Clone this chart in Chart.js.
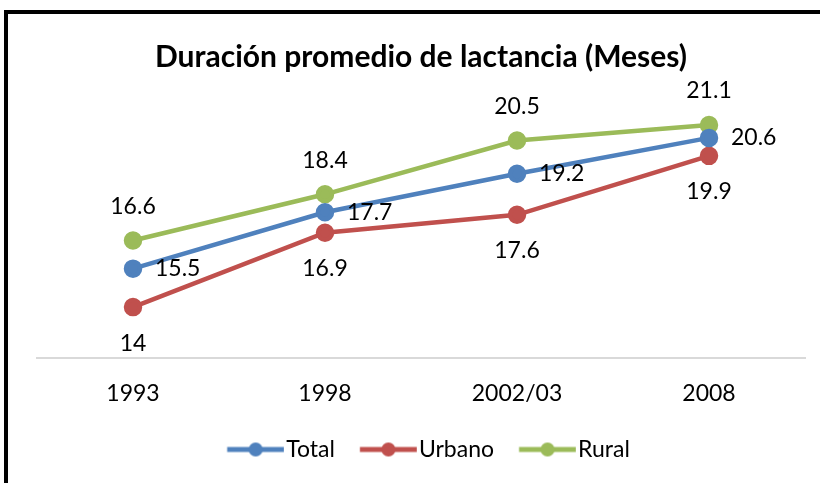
<!DOCTYPE html>
<html>
<head>
<meta charset="utf-8">
<script src="https://cdn.jsdelivr.net/npm/chart.js@4/dist/chart.umd.min.js"></script>
<style>
html,body{margin:0;padding:0;background:#fff;}
#wrap{position:relative;width:820px;height:483px;}
canvas{display:block;}
</style>
</head>
<body>
<div id="wrap"><canvas id="c" width="820" height="483"></canvas></div>
<script>
const categories = ["1993", "1998", "2002/03", "2008"];
const totalValues = [15.5, 17.7, 19.2, 20.6];
const urbanoValues = [14, 16.9, 17.6, 19.9];
const ruralValues = [16.6, 18.4, 20.5, 21.1];
const seriesNames = ["Total", "Urbano", "Rural"];
const chartTitle = "Duración promedio de lactancia (Meses)";

const colors = ["#4f81bd", "#c0504d", "#9bbb59"];
const labelPos = ["right", "below", "above"];
const FONT = "Lato, 'Open Sans', sans-serif";

function legendMarker(color) {
  const c = document.createElement("canvas");
  c.width = 82; c.height = 16;
  const x = c.getContext("2d");
  x.strokeStyle = color; x.lineWidth = 5; x.lineCap = "butt";
  x.beginPath(); x.moveTo(24.75, 8); x.lineTo(81.75, 8); x.stroke();
  x.fillStyle = color;
  x.beginPath(); x.arc(53.25, 8, 7, 0, Math.PI * 2); x.fill();
  return c;
}
const markers = colors.map(legendMarker);

const borderPlugin = {
  id: "frame",
  beforeDraw(chart) {
    const ctx = chart.ctx;
    ctx.save();
    ctx.fillStyle = "#fff";
    ctx.fillRect(0, 0, chart.width, chart.height);
    ctx.fillStyle = "#000";
    ctx.fillRect(4, 10, chart.width - 4, 4);
    ctx.fillRect(4, 10, 4, chart.height - 10);
    ctx.restore();
  }
};

const valueLabels = {
  id: "valueLabels",
  afterDatasetsDraw(chart) {
    const ctx = chart.ctx;
    ctx.save();
    ctx.font = "23px " + FONT;
    ctx.fillStyle = "#000";
    chart.data.datasets.forEach((ds, i) => {
      const meta = chart.getDatasetMeta(i);
      meta.data.forEach((pt, j) => {
        const txt = String(ds.data[j]);
        const pos = labelPos[i];
        ctx.textBaseline = "middle";
        if (pos === "right") {
          ctx.textAlign = "left";
          ctx.fillText(txt, pt.x + 22, pt.y);
        } else if (pos === "below") {
          ctx.textAlign = "center";
          ctx.fillText(txt, pt.x, pt.y + 36);
        } else {
          ctx.textAlign = "center";
          ctx.fillText(txt, pt.x, pt.y - 34);
        }
      });
    });
    ctx.restore();
  }
};

const seriesData = [totalValues, urbanoValues, ruralValues];

new Chart(document.getElementById("c"), {
  type: "line",
  data: {
    labels: categories,
    datasets: seriesNames.map((n, i) => ({
      label: n,
      data: seriesData[i],
      borderColor: colors[i],
      backgroundColor: colors[i],
      pointBackgroundColor: colors[i],
      pointBorderColor: colors[i],
      borderWidth: 4.5,
      pointRadius: 7,
      pointHoverRadius: 7,
      tension: 0,
      fill: false
    }))
  },
  options: {
    responsive: false,
    devicePixelRatio: 1,
    animation: false,
    layout: { padding: { left: 37, right: 15, top: 0, bottom: 12 } },
    plugins: {
      title: {
        display: true,
        text: chartTitle,
        color: "#000",
        font: { family: FONT, size: 30, weight: "bold" },
        padding: { top: 39, bottom: 27 }
      },
      legend: {
        position: "bottom",
        labels: {
          usePointStyle: true,
          pointStyleWidth: 62.5,
          color: "#000",
          font: { family: FONT, size: 23 },
          padding: 10,
          generateLabels(chart) {
            return chart.data.datasets.map((ds, i) => ({
              text: ds.label,
              fillStyle: colors[i],
              strokeStyle: colors[i],
              pointStyle: markers[i],
              datasetIndex: i,
              hidden: false,
              lineWidth: 0
            }));
          }
        }
      },
      tooltip: { enabled: false }
    },
    scales: {
      x: {
        offset: true,
        grid: { display: false, drawTicks: false },
        border: { display: true, color: "#d9d9d9", width: 2 },
        ticks: { color: "#000", font: { family: FONT, size: 23 }, padding: 21 }
      },
      y: {
        display: false,
        min: 12,
        max: 22
      }
    }
  },
  plugins: [borderPlugin, valueLabels]
});
</script>
</body>
</html>
